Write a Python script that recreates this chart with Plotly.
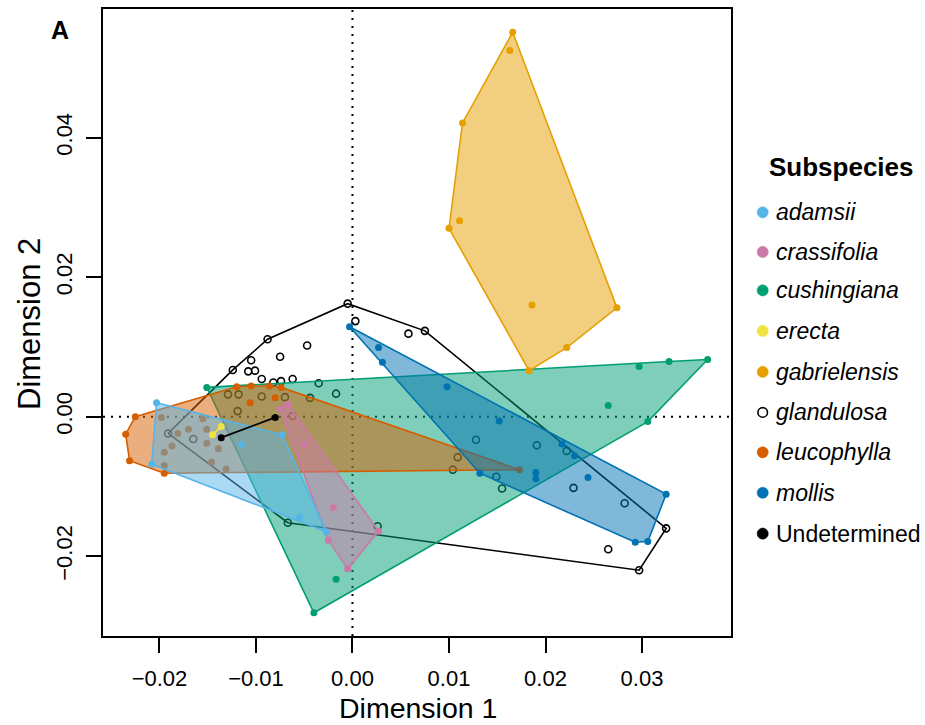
import plotly.graph_objects as go

# ---------------- data (Dimension 1, Dimension 2) ----------------
adamsii_x = [-0.0203, -0.0208, -0.0073, -0.0115, -0.0027, -0.0055]
adamsii_y = [0.0020, -0.0068, -0.0026, -0.0040, -0.0165, -0.0144]

crassifolia_x = [-0.0067, -0.0075, 0.0027, -0.0005, -0.0050, -0.0020, -0.0025]
crassifolia_y = [0.0018, 0.0011, -0.0164, -0.0218, -0.0040, -0.0130, -0.0177]

cushingiana_x = [-0.0151, 0.0368, 0.0328, 0.0297, 0.0265, 0.0306, -0.0040, -0.0017]
cushingiana_y = [0.0042, 0.0082, 0.0079, 0.0072, 0.0016, -0.0007, -0.0281, -0.0233]

erecta_x = [-0.0136, -0.0145]
erecta_y = [-0.0014, -0.0026]

gabrielensis_x = [0.0166, 0.0163, 0.0114, 0.0111, 0.0100, 0.0186, 0.0274, 0.0222, 0.0183]
gabrielensis_y = [0.0551, 0.0525, 0.0421, 0.0281, 0.0270, 0.0160, 0.0156, 0.0099, 0.0066]

glandulosa_x = [-0.0005, 0.0075, 0.0325, 0.0297, -0.0067, -0.0191, -0.0124, -0.0088,
                0.0003, 0.0058, -0.0047, -0.0075, -0.0105, -0.0108, -0.0101, -0.0094,
                -0.0082, -0.0074, -0.0062, -0.0035, -0.0017, -0.0129, -0.0118, -0.0094,
                -0.0070, -0.0044, -0.0119, -0.0062, -0.0165, 0.0128, 0.0149, 0.0155,
                0.0191, 0.0222, 0.0109, 0.0104, 0.0229, 0.0282, 0.0265, 0.0026]
glandulosa_y = [0.0162, 0.0123, -0.0160, -0.0220, -0.0152, -0.0024, 0.0067, 0.0111,
                0.0137, 0.0119, 0.0102, 0.0086, 0.0081, 0.0065, 0.0066, 0.0054,
                0.0049, 0.0051, 0.0054, 0.0048, 0.0033, 0.0032, 0.0032, 0.0029,
                0.0028, 0.0027, 0.0008, 0.0001, -0.0032, -0.0033, -0.0086, -0.0103,
                -0.0041, -0.0049, -0.0058, -0.0076, -0.0102, -0.0124, -0.0190, -0.0157]

leucophylla_x = [-0.0225, -0.0235, -0.0231, -0.0195, -0.0120, -0.0105, -0.0086, -0.0074,
                 -0.0106, -0.0080, 0.0173, -0.0198, -0.0170, -0.0181, -0.0151, -0.0151,
                 -0.0187, -0.0195, -0.0139, -0.0195, -0.0146, -0.0131, -0.0155]
leucophylla_y = [0.0000, -0.0025, -0.0063, -0.0081, 0.0043, 0.0044, 0.0044, 0.0042,
                 0.0020, 0.0027, -0.0076, -0.0001, -0.0018, -0.0024, -0.0018, -0.0038,
                 -0.0042, -0.0051, -0.0046, -0.0070, -0.0065, -0.0075, -0.0003]

mollis_x = [-0.0003, 0.0027, 0.0031, 0.0098, 0.0152, 0.0132, 0.0190, 0.0190, 0.0217,
            0.0230, 0.0244, 0.0325, 0.0293, 0.0306]
mollis_y = [0.0129, 0.0099, 0.0078, 0.0043, -0.0006, -0.0081, -0.0080, -0.0089, -0.0039,
            -0.0056, -0.0087, -0.0111, -0.0180, -0.0179]

undetermined_x = [-0.0136, -0.0080]
undetermined_y = [-0.0030, -0.0001]

legend_labels = ["adamsii", "crassifolia", "cushingiana", "erecta", "gabrielensis",
                 "glandulosa", "leucophylla", "mollis", "Undetermined"]
x_ticks = [-0.02, -0.01, 0.00, 0.01, 0.02, 0.03]
y_ticks = [-0.02, 0.00, 0.02, 0.04]

# ---------------- styles ----------------
COL = {
    "adamsii": "#56B4E9", "crassifolia": "#CC79A7", "cushingiana": "#009E73",
    "erecta": "#F0E442", "gabrielensis": "#E69F00", "glandulosa": "#000000",
    "leucophylla": "#D55E00", "mollis": "#0072B2", "Undetermined": "#000000",
}
FONT = "Liberation Sans, Arial, sans-serif"


def rgba(hexc, a):
    h = hexc.lstrip("#")
    return "rgba(%d,%d,%d,%.2f)" % (int(h[0:2], 16), int(h[2:4], 16), int(h[4:6], 16), a)


def hull(xs, ys):
    pts = sorted(set(zip(xs, ys)))
    if len(pts) < 3:
        return pts

    def cross(o, a, b):
        return (a[0] - o[0]) * (b[1] - o[1]) - (a[1] - o[1]) * (b[0] - o[0])

    lower, upper = [], []
    for p in pts:
        while len(lower) >= 2 and cross(lower[-2], lower[-1], p) <= 0:
            lower.pop()
        lower.append(p)
    for p in reversed(pts):
        while len(upper) >= 2 and cross(upper[-2], upper[-1], p) <= 0:
            upper.pop()
        upper.append(p)
    return lower[:-1] + upper[:-1]


fig = go.Figure()


def add_group(name, xs, ys, fill=True, open_marker=False):
    c = COL[name]
    h = hull(xs, ys)
    hx = [p[0] for p in h] + [h[0][0]]
    hy = [p[1] for p in h] + [h[0][1]]
    if fill and len(h) >= 3:
        fig.add_trace(go.Scatter(x=hx, y=hy, mode="lines", fill="toself",
                                 fillcolor=rgba(c, 0.5), line=dict(color=c, width=1.6),
                                 hoverinfo="skip", showlegend=False))
    elif len(h) >= 3:
        fig.add_trace(go.Scatter(x=hx, y=hy, mode="lines",
                                 line=dict(color=c, width=1.6),
                                 hoverinfo="skip", showlegend=False))
    else:
        fig.add_trace(go.Scatter(x=[p[0] for p in h], y=[p[1] for p in h], mode="lines",
                                 line=dict(color=c, width=1.8),
                                 hoverinfo="skip", showlegend=False))
    if open_marker:
        mk = dict(symbol="circle-open", size=7, color=c, line=dict(width=1.6, color=c))
    else:
        mk = dict(symbol="circle", size=7, color=c, line=dict(width=0))
    fig.add_trace(go.Scatter(x=xs, y=ys, mode="markers", marker=mk, name=name,
                             showlegend=False))


add_group("glandulosa", glandulosa_x, glandulosa_y, fill=False, open_marker=True)
add_group("cushingiana", cushingiana_x, cushingiana_y)
add_group("gabrielensis", gabrielensis_x, gabrielensis_y)
add_group("leucophylla", leucophylla_x, leucophylla_y)
add_group("crassifolia", crassifolia_x, crassifolia_y)
add_group("adamsii", adamsii_x, adamsii_y)
add_group("mollis", mollis_x, mollis_y)
add_group("erecta", erecta_x, erecta_y)
add_group("Undetermined", undetermined_x, undetermined_y)

# ---------------- layout geometry ----------------
L, R, T, B = 103, 194, 7, 89
PW, PH = 925 - L - R, 725 - T - B


def px(xpix):
    return (xpix - L) / PW


def py(ypix):
    return (725 - B - ypix) / PH


shapes = [
    dict(type="line", xref="x", yref="y domain", x0=0, x1=0, y0=0, y1=1,
         line=dict(color="black", width=2, dash="2px,6px"), layer="below"),
    dict(type="line", xref="x domain", yref="y", x0=0, x1=1, y0=0, y1=0,
         line=dict(color="black", width=2, dash="2px,6px"), layer="below"),
]

annotations = []
legend_y_pix = [211, 250.7, 289.3, 330, 371, 411.7, 451.7, 492.3, 533.3]
for lab, yp in zip(legend_labels, legend_y_pix):
    c = COL[lab]
    if lab == "glandulosa":
        shapes.append(dict(type="circle", xref="paper", yref="paper",
                           xsizemode="pixel", ysizemode="pixel",
                           xanchor=px(762.7), yanchor=py(yp),
                           x0=-4.8, x1=4.8, y0=-4.8, y1=4.8,
                           fillcolor="white", line=dict(color="black", width=1.6)))
    else:
        shapes.append(dict(type="circle", xref="paper", yref="paper",
                           xsizemode="pixel", ysizemode="pixel",
                           xanchor=px(762.7), yanchor=py(yp),
                           x0=-5.6, x1=5.6, y0=-5.6, y1=5.6,
                           fillcolor=c, line=dict(color=c, width=0.5)))
    txt = lab if lab == "Undetermined" else "<i>%s</i>" % lab
    annotations.append(dict(text=txt, xref="paper", yref="paper", x=px(774), y=py(yp),
                            xanchor="left", yanchor="middle", showarrow=False,
                            font=dict(size=23, color="black", family=FONT)))

annotations += [
    dict(text="<b>Subspecies</b>", xref="paper", yref="paper", x=px(841.7), y=py(165.7),
         xanchor="center", yanchor="middle", showarrow=False,
         font=dict(size=26, color="black", family=FONT)),
    dict(text="<b>A</b>", xref="paper", yref="paper", x=px(60), y=py(28),
         xanchor="center", yanchor="middle", showarrow=False,
         font=dict(size=25, color="black", family=FONT)),
    dict(text="Dimension 1", xref="paper", yref="paper", x=px(418), y=py(708),
         xanchor="center", yanchor="middle", showarrow=False,
         font=dict(size=28.5, color="black", family=FONT)),
    dict(text="Dimension 2", xref="paper", yref="paper", x=px(30), y=py(323),
         xanchor="center", yanchor="middle", showarrow=False, textangle=-90,
         font=dict(size=31, color="black", family=FONT)),
]

axis_common = dict(showgrid=False, zeroline=False, showline=True, mirror=True,
                   linecolor="black", linewidth=2, ticks="outside", ticklen=15,
                   tickwidth=2, tickcolor="black",
                   tickfont=dict(size=22, color="black", family=FONT))

fig.update_layout(
    width=925, height=725,
    margin=dict(l=L, r=R, t=T, b=B, pad=0),
    paper_bgcolor="white", plot_bgcolor="white",
    showlegend=False,
    xaxis=dict(range=[-0.02585, 0.03922], tickvals=x_ticks, tickformat=".2f",
               ticklabelstandoff=7, **axis_common),
    yaxis=dict(range=[-0.03143, 0.05843], tickvals=y_ticks, tickformat=".2f",
               tickangle=-90, ticklabelstandoff=5, **axis_common),
    shapes=shapes,
    annotations=annotations,
)

fig.write_html("out.html")
